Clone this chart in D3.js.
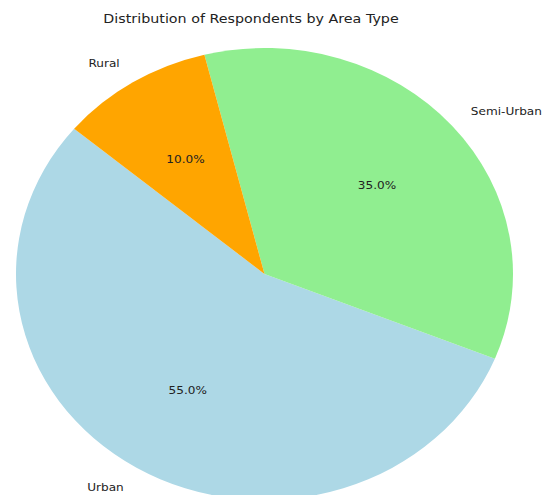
<!DOCTYPE html>
<html>
<head>
<meta charset="utf-8">
<script src="https://cdn.jsdelivr.net/npm/d3@7"></script>
<style>
  html, body { margin: 0; padding: 0; background: #fff; }
  svg { display: block; }
  text { font-family: "DejaVu Sans", sans-serif; fill: #222; }
</style>
</head>
<body>
<svg id="chart" width="551" height="495"></svg>
<script>
// Data
const categories = ["Urban", "Semi-Urban", "Rural"];
const shares = [55, 35, 10];
const sliceColors = ["#add8e6", "#90ee90", "#ffa500"];
const chartTitle = "Distribution of Respondents by Area Type";

const W = 551, H = 495;
const cx = 264.5, cy = 274, rx = 248.5, ry = 226;
const stretch = rx / ry; // horizontal stretch of the original image
const startDeg = 140; // matplotlib-style start angle, counter-clockwise

const svg = d3.select("#chart");

// unit-circle scales (x right, y up)
const xs = d3.scaleLinear().domain([-1, 1]).range([cx - rx, cx + rx]);
const ys = d3.scaleLinear().domain([-1, 1]).range([cy + ry, cy - ry]);

const toRad = d => d * Math.PI / 180;
const a0 = toRad(90 - startDeg);
const pie = d3.pie().sort(null).value(d => d.v)
  .startAngle(a0).endAngle(a0 - 2 * Math.PI);

const data = categories.map((c, i) => ({ name: c, v: shares[i], color: sliceColors[i] }));
const arcs = pie(data);

const arc = d3.arc().innerRadius(0).outerRadius(rx);

const g = svg.append("g")
  .attr("transform", `translate(${cx},${cy}) scale(1,${ry / rx})`);

g.selectAll("path").data(arcs).join("path")
  .attr("d", arc)
  .attr("fill", d => d.data.color);

const total = d3.sum(shares);
const fmt = d3.format(".1f");

function pos(d, f) {
  const m = (d.startAngle + d.endAngle) / 2; // clockwise from 12 o'clock
  return { ux: f * Math.sin(m), uy: f * Math.cos(m) };
}

// category labels
svg.selectAll("text.lab").data(arcs).join("text")
  .attr("class", "lab")
  .attr("transform", d => `translate(${xs(pos(d, 1.1).ux)},${ys(pos(d, 1.1).uy)}) scale(${stretch},1)`)
  .attr("text-anchor", d => pos(d, 1.1).ux < 0 ? "end" : "start")
  .attr("dominant-baseline", "central")
  .style("font-size", "11px")
  .text(d => d.data.name);

// percentage labels
svg.selectAll("text.pct").data(arcs).join("text")
  .attr("class", "pct")
  .attr("transform", d => `translate(${xs(pos(d, 0.6).ux)},${ys(pos(d, 0.6).uy)}) scale(${stretch},1)`)
  .attr("text-anchor", "middle")
  .attr("dominant-baseline", "central")
  .style("font-size", "11px")
  .text(d => fmt(d.data.v / total * 100) + "%");

// title
svg.append("text")
  .attr("transform", `translate(251,18) scale(${stretch},1)`)
  .attr("text-anchor", "middle")
  .attr("dominant-baseline", "central")
  .style("font-size", "13px")
  .text(chartTitle);
</script>
</body>
</html>
